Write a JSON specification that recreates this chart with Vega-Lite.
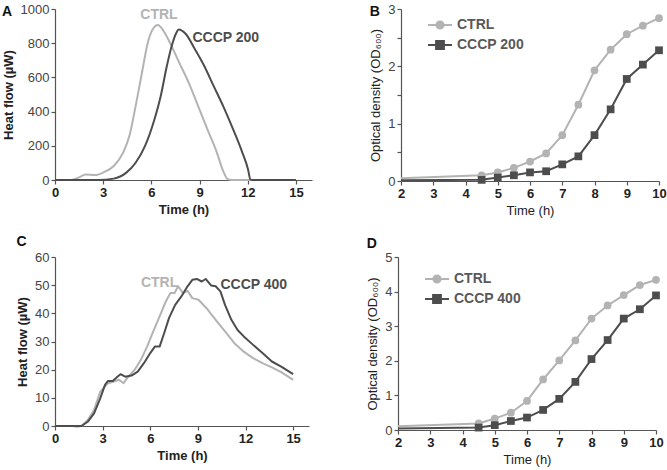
{
  "$schema": "https://vega.github.io/schema/vega-lite/v6.json",
  "padding": {"left": 2, "top": 3, "right": 5, "bottom": 3},
  "background": "white",
  "config": {
    "font": "Liberation Sans",
    "view": {"stroke": null},
    "axis": {"grid": false, "domainColor": "#555555", "tickColor": "#555555", "domainWidth": 1.2, "tickWidth": 1.2, "tickSize": 4, "labelColor": "#333333", "titleColor": "#222222", "labelFontSize": 13, "titleFontSize": 13, "labelPadding": 2, "labelOverlap": false, "labelFlush": false, "tickCount": 50, "format": "d"},
    "axisX": {"labelFontWeight": "bold", "labelColor": "#222222"},
    "axisY": {"labelFontWeight": "normal", "labelColor": "#444444"},
    "legend": {"labelColor": "#595959"},
    "title": {"fontSize": 14, "fontWeight": "bold", "anchor": "start", "frame": "bounds", "color": "#111111"}
  },
  "datasets": {
    "heatA": [
      {"t": 0, "v": 0, "s": "CTRL"}, {"t": 1, "v": 0, "s": "CTRL"}, {"t": 1.5, "v": 15, "s": "CTRL"}, {"t": 1.9, "v": 32, "s": "CTRL"}, {"t": 2.5, "v": 29, "s": "CTRL"}, {"t": 3.07, "v": 47, "s": "CTRL"}, {"t": 3.66, "v": 82, "s": "CTRL"}, {"t": 4.24, "v": 160, "s": "CTRL"}, {"t": 4.63, "v": 257, "s": "CTRL"}, {"t": 5.02, "v": 432, "s": "CTRL"}, {"t": 5.41, "v": 626, "s": "CTRL"}, {"t": 5.8, "v": 811, "s": "CTRL"}, {"t": 6.19, "v": 895, "s": "CTRL"}, {"t": 6.4, "v": 906, "s": "CTRL"}, {"t": 6.77, "v": 870, "s": "CTRL"}, {"t": 7.16, "v": 802, "s": "CTRL"}, {"t": 7.74, "v": 685, "s": "CTRL"}, {"t": 8.33, "v": 568, "s": "CTRL"}, {"t": 8.91, "v": 432, "s": "CTRL"}, {"t": 9.49, "v": 296, "s": "CTRL"}, {"t": 10.08, "v": 160, "s": "CTRL"}, {"t": 10.47, "v": 52, "s": "CTRL"}, {"t": 10.76, "v": 4, "s": "CTRL"}, {"t": 11, "v": 0, "s": "CTRL"}, {"t": 15, "v": 0, "s": "CTRL"},
      {"t": 0, "v": 0, "s": "CCCP 200"}, {"t": 2.7, "v": 0, "s": "CCCP 200"}, {"t": 3.66, "v": 8, "s": "CCCP 200"}, {"t": 4.44, "v": 43, "s": "CCCP 200"}, {"t": 5.02, "v": 101, "s": "CCCP 200"}, {"t": 5.6, "v": 198, "s": "CCCP 200"}, {"t": 6.19, "v": 354, "s": "CCCP 200"}, {"t": 6.58, "v": 490, "s": "CCCP 200"}, {"t": 6.96, "v": 665, "s": "CCCP 200"}, {"t": 7.26, "v": 782, "s": "CCCP 200"}, {"t": 7.55, "v": 860, "s": "CCCP 200"}, {"t": 7.7, "v": 880, "s": "CCCP 200"}, {"t": 8.13, "v": 855, "s": "CCCP 200"}, {"t": 8.72, "v": 763, "s": "CCCP 200"}, {"t": 9.3, "v": 665, "s": "CCCP 200"}, {"t": 9.88, "v": 549, "s": "CCCP 200"}, {"t": 10.47, "v": 432, "s": "CCCP 200"}, {"t": 11.05, "v": 305, "s": "CCCP 200"}, {"t": 11.63, "v": 169, "s": "CCCP 200"}, {"t": 12.02, "v": 62, "s": "CCCP 200"}, {"t": 12.16, "v": 4, "s": "CCCP 200"}, {"t": 12.3, "v": 0, "s": "CCCP 200"}, {"t": 15, "v": 0, "s": "CCCP 200"}
    ],
    "labA": [
      {"t": 5.31, "v": 965, "s": "CTRL"},
      {"t": 8.56, "v": 831, "s": "CCCP 200"}
    ],
    "odB": [
      {"t": 0, "v": 0.01, "s": "CTRL"}, {"t": 4.5, "v": 0.1, "s": "CTRL"}, {"t": 5, "v": 0.15, "s": "CTRL"}, {"t": 5.5, "v": 0.23, "s": "CTRL"}, {"t": 6, "v": 0.34, "s": "CTRL"}, {"t": 6.5, "v": 0.48, "s": "CTRL"}, {"t": 7, "v": 0.8, "s": "CTRL"}, {"t": 7.5, "v": 1.33, "s": "CTRL"}, {"t": 8, "v": 1.93, "s": "CTRL"}, {"t": 8.5, "v": 2.29, "s": "CTRL"}, {"t": 9, "v": 2.56, "s": "CTRL"}, {"t": 9.5, "v": 2.71, "s": "CTRL"}, {"t": 10, "v": 2.84, "s": "CTRL"},
      {"t": 0, "v": 0.01, "s": "CCCP 200"}, {"t": 4.5, "v": 0.02, "s": "CCCP 200"}, {"t": 5, "v": 0.06, "s": "CCCP 200"}, {"t": 5.5, "v": 0.1, "s": "CCCP 200"}, {"t": 6, "v": 0.15, "s": "CCCP 200"}, {"t": 6.5, "v": 0.17, "s": "CCCP 200"}, {"t": 7, "v": 0.29, "s": "CCCP 200"}, {"t": 7.5, "v": 0.43, "s": "CCCP 200"}, {"t": 8, "v": 0.8, "s": "CCCP 200"}, {"t": 8.5, "v": 1.25, "s": "CCCP 200"}, {"t": 9, "v": 1.78, "s": "CCCP 200"}, {"t": 9.5, "v": 2.03, "s": "CCCP 200"}, {"t": 10, "v": 2.28, "s": "CCCP 200"}
    ],
    "heatC": [
      {"t": 0, "v": 0, "s": "CTRL"}, {"t": 1.1, "v": 0, "s": "CTRL"}, {"t": 1.4, "v": -0.3, "s": "CTRL"}, {"t": 1.67, "v": 0, "s": "CTRL"}, {"t": 2.06, "v": 2.1, "s": "CTRL"}, {"t": 2.46, "v": 5.7, "s": "CTRL"}, {"t": 2.85, "v": 12.2, "s": "CTRL"}, {"t": 3.05, "v": 13.4, "s": "CTRL"}, {"t": 3.34, "v": 15.2, "s": "CTRL"}, {"t": 3.73, "v": 15.8, "s": "CTRL"}, {"t": 4.03, "v": 16.4, "s": "CTRL"}, {"t": 4.32, "v": 15.2, "s": "CTRL"}, {"t": 4.62, "v": 17.5, "s": "CTRL"}, {"t": 5.01, "v": 19.9, "s": "CTRL"}, {"t": 5.41, "v": 23.5, "s": "CTRL"}, {"t": 5.8, "v": 28.2, "s": "CTRL"}, {"t": 6.19, "v": 33.6, "s": "CTRL"}, {"t": 6.59, "v": 38.9, "s": "CTRL"}, {"t": 6.98, "v": 44.2, "s": "CTRL"}, {"t": 7.27, "v": 47.2, "s": "CTRL"}, {"t": 7.53, "v": 47.2, "s": "CTRL"}, {"t": 7.76, "v": 49.6, "s": "CTRL"}, {"t": 8.06, "v": 47.2, "s": "CTRL"}, {"t": 8.35, "v": 48.0, "s": "CTRL"}, {"t": 8.65, "v": 45.4, "s": "CTRL"}, {"t": 9.04, "v": 44.8, "s": "CTRL"}, {"t": 9.53, "v": 41.9, "s": "CTRL"}, {"t": 10.12, "v": 37.7, "s": "CTRL"}, {"t": 10.71, "v": 33.6, "s": "CTRL"}, {"t": 11.3, "v": 29.4, "s": "CTRL"}, {"t": 11.89, "v": 26.4, "s": "CTRL"}, {"t": 12.48, "v": 24.1, "s": "CTRL"}, {"t": 13.07, "v": 22.3, "s": "CTRL"}, {"t": 13.66, "v": 20.8, "s": "CTRL"}, {"t": 14.25, "v": 19.1, "s": "CTRL"}, {"t": 15, "v": 16.4, "s": "CTRL"},
      {"t": 0, "v": 0, "s": "CCCP 400"}, {"t": 1.67, "v": 0, "s": "CCCP 400"}, {"t": 2.06, "v": 1.5, "s": "CCCP 400"}, {"t": 2.46, "v": 4.5, "s": "CCCP 400"}, {"t": 2.85, "v": 9.8, "s": "CCCP 400"}, {"t": 3.15, "v": 14.6, "s": "CCCP 400"}, {"t": 3.34, "v": 16.0, "s": "CCCP 400"}, {"t": 3.64, "v": 16.0, "s": "CCCP 400"}, {"t": 3.93, "v": 17.5, "s": "CCCP 400"}, {"t": 4.13, "v": 18.4, "s": "CCCP 400"}, {"t": 4.42, "v": 17.5, "s": "CCCP 400"}, {"t": 4.82, "v": 17.9, "s": "CCCP 400"}, {"t": 5.21, "v": 19.3, "s": "CCCP 400"}, {"t": 5.6, "v": 22.3, "s": "CCCP 400"}, {"t": 6.0, "v": 25.9, "s": "CCCP 400"}, {"t": 6.29, "v": 28.2, "s": "CCCP 400"}, {"t": 6.59, "v": 28.2, "s": "CCCP 400"}, {"t": 6.88, "v": 33.0, "s": "CCCP 400"}, {"t": 7.18, "v": 38.3, "s": "CCCP 400"}, {"t": 7.57, "v": 43.0, "s": "CCCP 400"}, {"t": 7.96, "v": 46.0, "s": "CCCP 400"}, {"t": 8.35, "v": 49.6, "s": "CCCP 400"}, {"t": 8.65, "v": 51.9, "s": "CCCP 400"}, {"t": 8.94, "v": 52.2, "s": "CCCP 400"}, {"t": 9.24, "v": 51.3, "s": "CCCP 400"}, {"t": 9.49, "v": 52.2, "s": "CCCP 400"}, {"t": 9.83, "v": 49.9, "s": "CCCP 400"}, {"t": 10.12, "v": 49.6, "s": "CCCP 400"}, {"t": 10.42, "v": 47.8, "s": "CCCP 400"}, {"t": 10.71, "v": 43.0, "s": "CCCP 400"}, {"t": 11.11, "v": 37.7, "s": "CCCP 400"}, {"t": 11.5, "v": 34.1, "s": "CCCP 400"}, {"t": 11.89, "v": 31.8, "s": "CCCP 400"}, {"t": 12.48, "v": 28.8, "s": "CCCP 400"}, {"t": 13.07, "v": 25.9, "s": "CCCP 400"}, {"t": 13.66, "v": 22.9, "s": "CCCP 400"}, {"t": 14.25, "v": 21.1, "s": "CCCP 400"}, {"t": 15, "v": 18.4, "s": "CCCP 400"}
    ],
    "labC": [
      {"t": 5.41, "v": 50.8, "s": "CTRL"},
      {"t": 10.42, "v": 50.2, "s": "CCCP 400"}
    ],
    "odD": [
      {"t": 0, "v": 0.04, "s": "CTRL"}, {"t": 4.5, "v": 0.19, "s": "CTRL"}, {"t": 5, "v": 0.33, "s": "CTRL"}, {"t": 5.5, "v": 0.5, "s": "CTRL"}, {"t": 6, "v": 0.84, "s": "CTRL"}, {"t": 6.5, "v": 1.46, "s": "CTRL"}, {"t": 7, "v": 2.01, "s": "CTRL"}, {"t": 7.5, "v": 2.59, "s": "CTRL"}, {"t": 8, "v": 3.22, "s": "CTRL"}, {"t": 8.5, "v": 3.6, "s": "CTRL"}, {"t": 9, "v": 3.9, "s": "CTRL"}, {"t": 9.5, "v": 4.19, "s": "CTRL"}, {"t": 10, "v": 4.34, "s": "CTRL"},
      {"t": 0, "v": 0.02, "s": "CCCP 400"}, {"t": 4.5, "v": 0.07, "s": "CCCP 400"}, {"t": 5, "v": 0.14, "s": "CCCP 400"}, {"t": 5.5, "v": 0.26, "s": "CCCP 400"}, {"t": 6, "v": 0.36, "s": "CCCP 400"}, {"t": 6.5, "v": 0.58, "s": "CCCP 400"}, {"t": 7, "v": 0.9, "s": "CCCP 400"}, {"t": 7.5, "v": 1.39, "s": "CCCP 400"}, {"t": 8, "v": 2.05, "s": "CCCP 400"}, {"t": 8.5, "v": 2.6, "s": "CCCP 400"}, {"t": 9, "v": 3.22, "s": "CCCP 400"}, {"t": 9.5, "v": 3.49, "s": "CCCP 400"}, {"t": 10, "v": 3.89, "s": "CCCP 400"}
    ]
  },
  "spacing": 18,
  "resolve": {"scale": {"color": "independent", "shape": "independent", "x": "independent", "y": "independent"}, "legend": {"color": "independent", "shape": "independent"}},
  "vconcat": [
    {
      "spacing": 57,
      "resolve": {"scale": {"color": "independent", "shape": "independent", "x": "independent", "y": "independent"}, "legend": {"color": "independent", "shape": "independent"}},
      "hconcat": [
        {
          "width": 257, "height": 171,
          "title": {"text": "A", "offset": -16},
          "layer": [
            {
              "data": {"name": "heatA"},
              "mark": {"type": "line", "interpolate": "monotone", "strokeWidth": 2},
              "encoding": {
                "x": {"field": "t", "type": "quantitative", "scale": {"domain": [0, 15]}, "axis": {"values": [0, 3, 6, 9, 12, 15], "format": "d", "title": "Time (h)", "titleFontWeight": "bold", "titlePadding": 4}},
                "y": {"field": "v", "type": "quantitative", "scale": {"domain": [0, 1000]}, "axis": {"values": [0, 200, 400, 600, 800, 1000], "format": "d", "title": "Heat flow (µW)", "titleFontWeight": "bold", "titlePadding": 5}},
                "color": {"field": "s", "type": "nominal", "scale": {"domain": ["CTRL", "CCCP 200"], "range": ["#b3b3b3", "#4d4d4d"]}, "legend": null}
              }
            },
            {
              "data": {"name": "labA"},
              "mark": {"type": "text", "align": "left", "baseline": "middle", "fontSize": 14, "fontWeight": "bold"},
              "encoding": {
                "x": {"field": "t", "type": "quantitative"},
                "y": {"field": "v", "type": "quantitative"},
                "text": {"field": "s"},
                "color": {"field": "s", "type": "nominal", "legend": null}
              }
            }
          ]
        },
        {
          "width": 258, "height": 172,
          "title": {"text": "B", "offset": -16},
          "resolve": {"scale": {"color": "independent", "shape": "independent", "stroke": "independent"}, "legend": {"color": "independent", "shape": "independent", "stroke": "independent"}},
          "layer": [
            {
              "data": {"name": "odB"},
              "mark": {"type": "line", "strokeWidth": 2, "clip": true},
              "encoding": {
                "x": {"field": "t", "type": "quantitative", "scale": {"domain": [2, 10]}, "axis": {"values": [2, 3, 4, 5, 6, 7, 8, 9, 10], "format": "d", "title": "Time (h)", "titleFontWeight": "normal", "titlePadding": 4}},
                "y": {"field": "v", "type": "quantitative", "scale": {"domain": [0, 3]}, "axis": {"values": [0, 0.5, 1, 1.5, 2, 2.5, 3], "labelExpr": "datum.value % 1 === 0 ? format(datum.value, 'd') : ''", "title": "Optical density (OD₆₀₀)", "titleFontWeight": "normal", "titlePadding": 5}},
                "color": {"field": "s", "type": "nominal", "scale": {"domain": ["CTRL", "CCCP 200"], "range": ["#b3b3b3", "#4d4d4d"]}, "legend": null}
              }
            },
            {
              "data": {"name": "odB"},
              "transform": [{"filter": "datum.t >= 2"}],
              "mark": {"type": "point", "filled": true, "opacity": 1, "size": 60},
              "encoding": {
                "x": {"field": "t", "type": "quantitative"},
                "y": {"field": "v", "type": "quantitative"},
                "color": {"field": "s", "type": "nominal", "scale": {"domain": ["CTRL", "CCCP 200"], "range": ["#b3b3b3", "#4d4d4d"]}, "legend": null},
                "shape": {"field": "s", "type": "nominal", "scale": {"domain": ["CTRL", "CCCP 200"], "range": ["circle", "square"]}, "legend": null}
              }
            },
            {
              "data": {"name": "odB"},
              "transform": [{"filter": "datum.t > 100"}],
              "mark": {"type": "point", "filled": true, "opacity": 1, "size": 144, "strokeWidth": 2},
              "encoding": {
                "x": {"field": "t", "type": "quantitative"},
                "y": {"field": "v", "type": "quantitative"},
                "color": {"field": "s", "type": "nominal", "scale": {"domain": ["CTRL", "CCCP 200"], "range": ["#b3b3b3", "#4d4d4d"]}, "legend": {"title": null, "orient": "none", "legendX": 32, "legendY": 9, "padding": 0, "symbolSize": 144, "symbolStrokeWidth": 2, "labelFontSize": 14, "labelFontWeight": "bold", "labelOffset": 10, "rowPadding": 4}},
                "stroke": {"field": "s", "type": "nominal", "scale": {"domain": ["CTRL", "CCCP 200"], "range": ["#b3b3b3", "#4d4d4d"]}, "legend": {"title": null, "orient": "none", "legendX": 32, "legendY": 9, "padding": 0, "symbolSize": 144, "symbolStrokeWidth": 2, "labelFontSize": 14, "labelFontWeight": "bold", "labelOffset": 10, "rowPadding": 4}},
                "shape": {"field": "s", "type": "nominal", "scale": {"domain": ["CTRL", "CCCP 200"], "range": ["M-2,0H2M-0.6,0A0.6,0.6,0,1,1,0.6,0A0.6,0.6,0,1,1,-0.6,0Z", "M-2,0H2M-0.65,-0.65H0.65V0.65H-0.65Z"]}, "legend": {"title": null, "orient": "none", "legendX": 32, "legendY": 9, "padding": 0, "symbolSize": 144, "symbolStrokeWidth": 2, "labelFontSize": 14, "labelFontWeight": "bold", "labelOffset": 10, "rowPadding": 4}}
              }
            }
          ]
        }
      ]
    },
    {
      "spacing": 57,
      "resolve": {"scale": {"color": "independent", "shape": "independent", "x": "independent", "y": "independent"}, "legend": {"color": "independent", "shape": "independent"}},
      "hconcat": [
        {
          "width": 254, "height": 169,
          "title": {"text": "C", "offset": 2},
          "layer": [
            {
              "data": {"name": "heatC"},
              "mark": {"type": "line", "strokeWidth": 2, "strokeJoin": "round"},
              "encoding": {
                "x": {"field": "t", "type": "quantitative", "scale": {"domain": [0, 15]}, "axis": {"values": [0, 3, 6, 9, 12, 15], "format": "d", "title": "Time (h)", "titleFontWeight": "bold", "titlePadding": 4}},
                "y": {"field": "v", "type": "quantitative", "scale": {"domain": [0, 60]}, "axis": {"values": [0, 10, 20, 30, 40, 50, 60], "format": "d", "title": "Heat flow (µW)", "titleFontWeight": "bold", "titlePadding": 5}},
                "color": {"field": "s", "type": "nominal", "scale": {"domain": ["CTRL", "CCCP 400"], "range": ["#b3b3b3", "#4d4d4d"]}, "legend": null}
              }
            },
            {
              "data": {"name": "labC"},
              "mark": {"type": "text", "align": "left", "baseline": "middle", "fontSize": 14, "fontWeight": "bold"},
              "encoding": {
                "x": {"field": "t", "type": "quantitative"},
                "y": {"field": "v", "type": "quantitative"},
                "text": {"field": "s"},
                "color": {"field": "s", "type": "nominal", "legend": null}
              }
            }
          ]
        },
        {
          "width": 258, "height": 173,
          "title": {"text": "D", "offset": 0},
          "resolve": {"scale": {"color": "independent", "shape": "independent", "stroke": "independent"}, "legend": {"color": "independent", "shape": "independent", "stroke": "independent"}},
          "layer": [
            {
              "data": {"name": "odD"},
              "mark": {"type": "line", "strokeWidth": 2, "clip": true},
              "encoding": {
                "x": {"field": "t", "type": "quantitative", "scale": {"domain": [2, 10]}, "axis": {"values": [2, 3, 4, 5, 6, 7, 8, 9, 10], "format": "d", "title": "Time (h)", "titleFontWeight": "normal", "titlePadding": 4}},
                "y": {"field": "v", "type": "quantitative", "scale": {"domain": [0, 5]}, "axis": {"values": [0, 1, 2, 3, 4, 5], "format": "d", "title": "Optical density (OD₆₀₀)", "titleFontWeight": "normal", "titlePadding": 5}},
                "color": {"field": "s", "type": "nominal", "scale": {"domain": ["CTRL", "CCCP 400"], "range": ["#b3b3b3", "#4d4d4d"]}, "legend": null}
              }
            },
            {
              "data": {"name": "odD"},
              "transform": [{"filter": "datum.t >= 2"}],
              "mark": {"type": "point", "filled": true, "opacity": 1, "size": 60},
              "encoding": {
                "x": {"field": "t", "type": "quantitative"},
                "y": {"field": "v", "type": "quantitative"},
                "color": {"field": "s", "type": "nominal", "scale": {"domain": ["CTRL", "CCCP 400"], "range": ["#b3b3b3", "#4d4d4d"]}, "legend": null},
                "shape": {"field": "s", "type": "nominal", "scale": {"domain": ["CTRL", "CCCP 400"], "range": ["circle", "square"]}, "legend": null}
              }
            },
            {
              "data": {"name": "odD"},
              "transform": [{"filter": "datum.t > 100"}],
              "mark": {"type": "point", "filled": true, "opacity": 1, "size": 144, "strokeWidth": 2},
              "encoding": {
                "x": {"field": "t", "type": "quantitative"},
                "y": {"field": "v", "type": "quantitative"},
                "color": {"field": "s", "type": "nominal", "scale": {"domain": ["CTRL", "CCCP 400"], "range": ["#b3b3b3", "#4d4d4d"]}, "legend": {"title": null, "orient": "none", "legendX": 32, "legendY": 15, "padding": 0, "symbolSize": 144, "symbolStrokeWidth": 2, "labelFontSize": 14, "labelFontWeight": "bold", "labelOffset": 10, "rowPadding": 4}},
                "stroke": {"field": "s", "type": "nominal", "scale": {"domain": ["CTRL", "CCCP 400"], "range": ["#b3b3b3", "#4d4d4d"]}, "legend": {"title": null, "orient": "none", "legendX": 32, "legendY": 15, "padding": 0, "symbolSize": 144, "symbolStrokeWidth": 2, "labelFontSize": 14, "labelFontWeight": "bold", "labelOffset": 10, "rowPadding": 4}},
                "shape": {"field": "s", "type": "nominal", "scale": {"domain": ["CTRL", "CCCP 400"], "range": ["M-2,0H2M-0.6,0A0.6,0.6,0,1,1,0.6,0A0.6,0.6,0,1,1,-0.6,0Z", "M-2,0H2M-0.65,-0.65H0.65V0.65H-0.65Z"]}, "legend": {"title": null, "orient": "none", "legendX": 32, "legendY": 15, "padding": 0, "symbolSize": 144, "symbolStrokeWidth": 2, "labelFontSize": 14, "labelFontWeight": "bold", "labelOffset": 10, "rowPadding": 4}}
              }
            }
          ]
        }
      ]
    }
  ]
}
